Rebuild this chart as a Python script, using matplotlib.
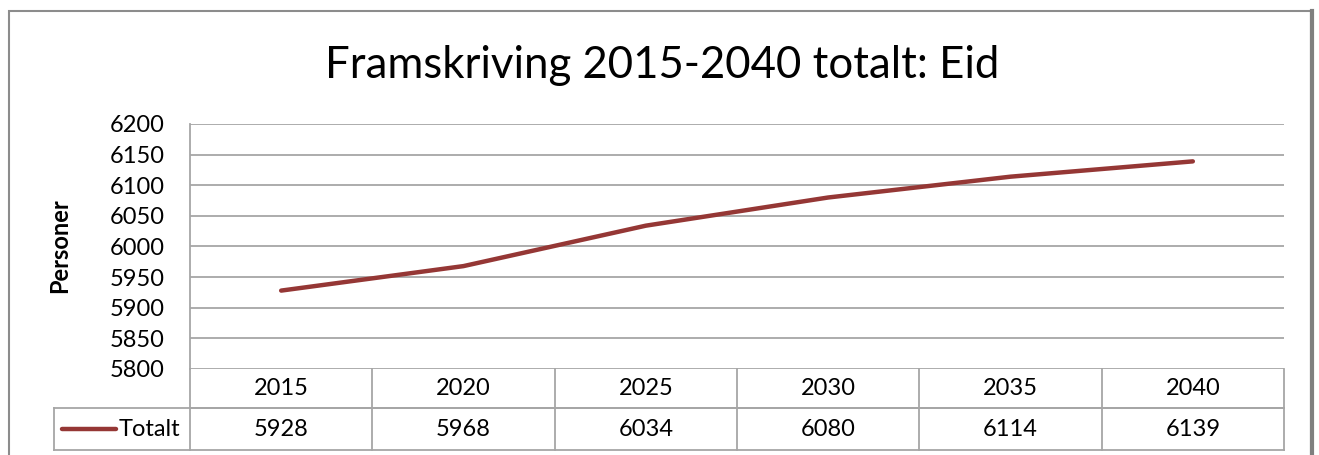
import matplotlib
matplotlib.use("Agg")
import matplotlib.pyplot as plt
from matplotlib.lines import Line2D
from matplotlib.patches import Rectangle

#### DATA ####
years = ["2015", "2020", "2025", "2030", "2035", "2040"]
totalt = [5928, 5968, 6034, 6080, 6114, 6139]
series_name = "Totalt"
title = "Framskriving 2015-2040 totalt: Eid"
ylabel = "Personer"
yticks = [5800, 5850, 5900, 5950, 6000, 6050, 6100, 6150, 6200]

#### STYLE ####
plt.rcParams['font.family'] = ['Lato', 'DejaVu Sans']
line_color = "#953735"
grid_color = "#a6a6a6"
W, H = 1319, 455

fig = plt.figure(figsize=(W / 100, H / 100), dpi=100)

# outer chart frame (cut off at the bottom, like the screenshot)
fig.patches.append(Rectangle((9 / W, -0.05), (1311 - 9) / W, 1 - 11 / H + 0.05,
                             transform=fig.transFigure, fill=False,
                             edgecolor="#8c8c8c", linewidth=1.5))
fig.add_artist(Line2D([1312 / W, 1312 / W], [0, 1 - 11 / H], transform=fig.transFigure,
                      color="#7f7f7f", linewidth=3))

left, right, top, bottom = 190, 1284, 124, 369
ax = fig.add_axes([left / W, 1 - bottom / H, (right - left) / W, (bottom - top) / H])

x = list(range(len(years)))
ax.plot(x, totalt, color=line_color, linewidth=3.2, solid_capstyle="round")
ax.set_xlim(-0.5, len(years) - 0.5)
ax.set_ylim(5800, 6200)
ax.set_yticks(yticks)
ax.set_yticklabels([str(t) for t in yticks], fontsize=17)
ax.tick_params(axis="y", length=0, pad=18)
ax.set_xticks([])
for t in yticks:
    ax.axhline(t, color=grid_color, linewidth=1.3, zorder=0)
for s in ["top", "right", "bottom"]:
    ax.spines[s].set_visible(False)
ax.spines["left"].set_color(grid_color)
ax.spines["left"].set_linewidth(1.3)

fig.text(60 / W, 1 - 246 / H, ylabel, fontsize=17, fontweight="bold",
         rotation=90, ha="center", va="center")
fig.text(662 / W, 1 - 66 / H, title, fontsize=31.5, ha="center", va="center")

# data table below the axis
ph = bottom - top
r1 = -(408 - bottom) / ph
r2 = -(450 - bottom) / ph
leg_left = (54 - left) / (right - left)
kw = dict(transform=ax.transAxes, clip_on=False, color=grid_color, linewidth=1.3)
n = len(years)
ax.add_line(Line2D([0, 1], [r1, r1], **kw))
ax.add_line(Line2D([leg_left, 1], [r1, r1], **kw))
ax.add_line(Line2D([leg_left, 1], [r2, r2], **kw))
ax.add_line(Line2D([leg_left, leg_left], [r1, r2], **kw))
for i in range(n + 1):
    xc = i / n
    ax.add_line(Line2D([xc, xc], [0, r2], **kw))
for i, (yr, v) in enumerate(zip(years, totalt)):
    xc = (i + 0.5) / n
    ax.text(xc, r1 / 2, yr, transform=ax.transAxes, ha="center", va="center", fontsize=17)
    ax.text(xc, (r1 + r2) / 2, str(v), transform=ax.transAxes, ha="center", va="center",
            fontsize=17)

# legend key inside the table
ym = (r1 + r2) / 2
ax.add_line(Line2D([(62 - left) / (right - left), (116 - left) / (right - left)], [ym, ym],
                   transform=ax.transAxes, clip_on=False, color=line_color,
                   linewidth=3.2, solid_capstyle="round"))
ax.text((119 - left) / (right - left), ym, series_name, transform=ax.transAxes,
        ha="left", va="center", fontsize=17)

fig.savefig("out.png", dpi=100, facecolor="white")
